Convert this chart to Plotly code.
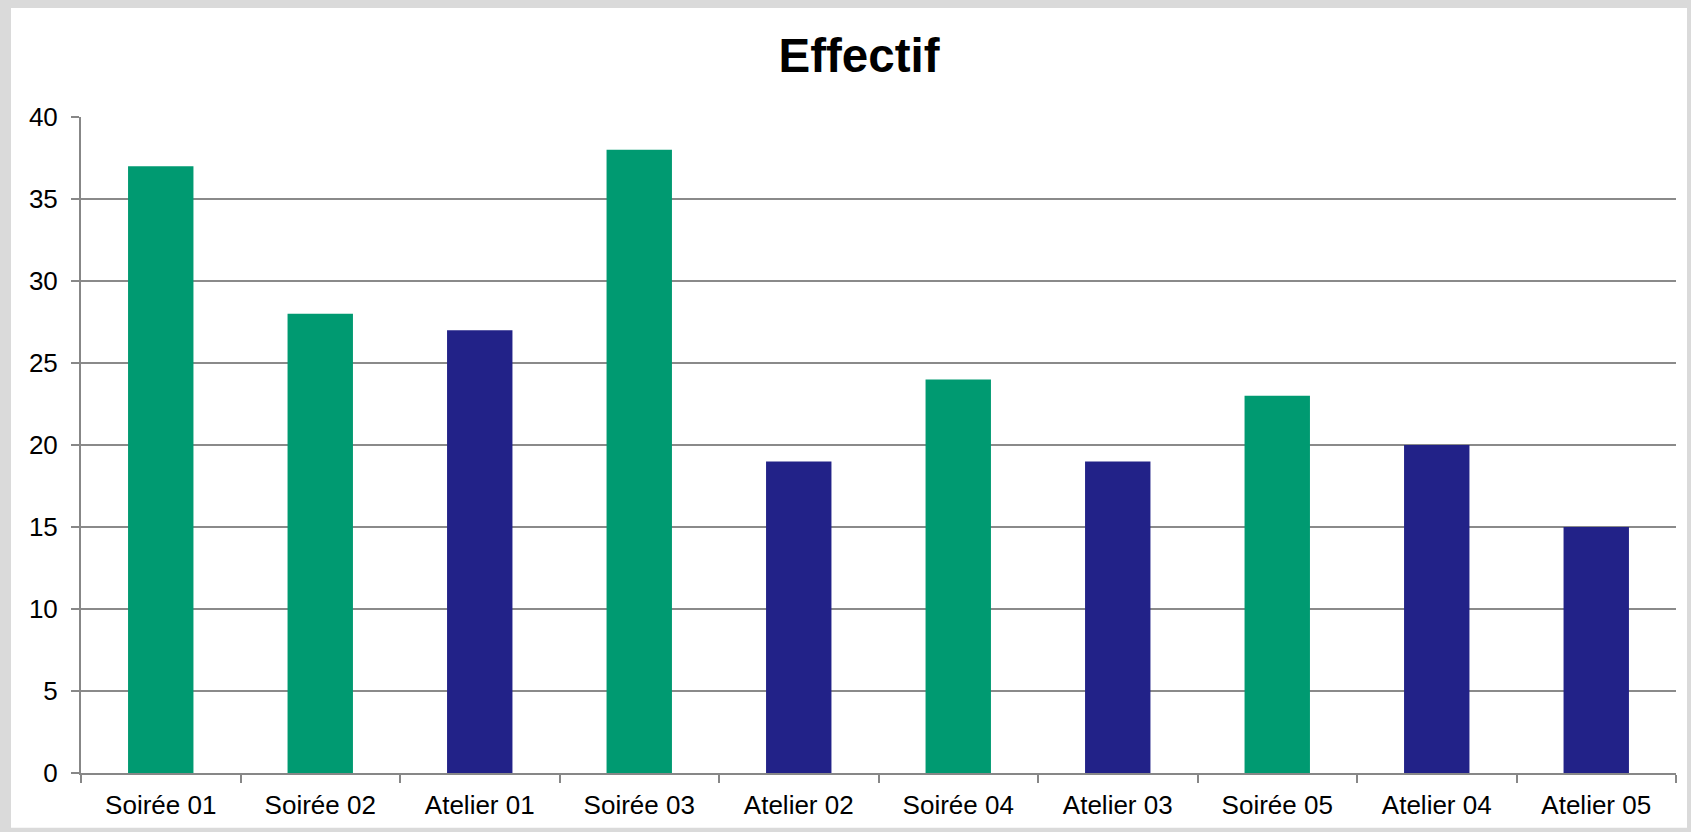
import plotly.graph_objects as go

categories = ["Soirée 01", "Soirée 02", "Atelier 01", "Soirée 03", "Atelier 02",
              "Soirée 04", "Atelier 03", "Soirée 05", "Atelier 04", "Atelier 05"]
values = [37, 28, 27, 38, 19, 24, 19, 23, 20, 15]
y_ticks = [0, 5, 10, 15, 20, 25, 30, 35, 40]

GREEN = "#009A71"
NAVY = "#222288"
colors = [GREEN if c.startswith("Soirée") else NAVY for c in categories]

W, H = 1691, 832
L, R, T, B = 81, 1676, 116.5, 776
pw, ph = R - L, B - T

fig = go.Figure()
fig.add_trace(go.Bar(x=categories, y=values, marker=dict(color=colors, line=dict(width=0)),
                     showlegend=False, hoverinfo="x+y"))

FONT = "Liberation Sans, Arial, sans-serif"
fig.update_layout(
    width=W, height=H,
    margin=dict(l=L, r=W - R, t=T, b=H - B, pad=0),
    paper_bgcolor="#DADADA",
    plot_bgcolor="rgba(0,0,0,0)",
    bargap=0.59,
    font=dict(family=FONT, size=26, color="#000000"),
    title=dict(text="<b>Effectif</b>", font=dict(family=FONT, size=47.5, color="#000000"),
               x=(859 - L) / pw, xref="paper", xanchor="center",
               y=1 - 55 / H, yref="container", yanchor="middle"),
    shapes=[dict(type="rect", xref="paper", yref="paper",
                 x0=(11 - L) / pw, x1=(1687 - L) / pw,
                 y0=(B - 831) / ph, y1=(B - 7) / ph,
                 fillcolor="#FFFFFF", line=dict(width=0), layer="below")],
)
fig.update_xaxes(
    type="category", showgrid=False, showline=True, linecolor="#878787", linewidth=2,
    ticks="outside", tickson="boundaries", ticklen=8, tickwidth=2, tickcolor="#878787",
    tickfont=dict(family=FONT, size=26, color="#000000"), ticklabelstandoff=8, fixedrange=True,
)
fig.update_yaxes(
    range=[0, 40], tickvals=y_ticks, showgrid=True, gridcolor="#8A8A8A", gridwidth=1.5,
    zeroline=False, showline=True, linecolor="#878787", linewidth=2,
    ticks="outside", ticklen=8, tickwidth=2, tickcolor="#878787",
    tickfont=dict(family=FONT, size=26, color="#000000"), ticklabelstandoff=8, fixedrange=True,
)

fig.write_html("out.html", config={"displayModeBar": False},
               post_script="document.body.style.margin='0';document.body.style.background='#DADADA';")
